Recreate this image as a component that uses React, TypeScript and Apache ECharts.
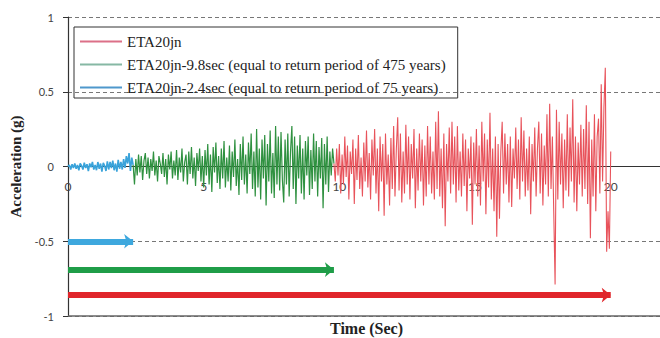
import React, { useEffect, useRef } from "react";
import * as echarts from "echarts";

const seriesNames = [
  "ETA20jn",
  "ETA20jn-9.8sec (equal to return period of 475 years)",
  "ETA20jn-2.4sec (equal to return period of 75 years)",
];

const sampleStep = 0.05;
const blueStart = 0;
const greenStart = 2.4;
const redStart = 9.8;

const blueValues = [
  0, 0.01, -0.02, 0.015, -0.01, 0.02, -0.015, 0.01, -0.025, 0.02, 0.005, -0.02, 0.025, -0.01, 0.015, -0.03, 0.02, -0.005, 0.03, -0.02,
  0.01, -0.025, 0.03, -0.015, 0.02, -0.035, 0.025, 0.005, -0.03, 0.035, -0.02, 0.03, -0.01, 0.04, -0.025, 0.02, -0.035, 0.045, -0.015, 0.03,
  -0.02, 0.05, -0.01, 0.07, 0.02, 0.09, -0.03, 0.06, 0.01,
];

const greenValues = [
  0.01, -0.12, 0.05, -0.06, 0.08, -0.04, 0.07, -0.09, 0.04, 0.09, -0.05, 0.06,
  -0.08, 0.05, -0.03, 0.1, -0.06, 0.04, -0.1, 0.07, 0.02, -0.05, 0.09, -0.07, 0.05, -0.12, 0.08, -0.02, 0.1, -0.08, 0.04, -0.06,
  0.11, -0.09, 0.06, -0.04, 0.12, -0.1, 0.03, 0.08, -0.12, 0.1, -0.05, 0.13, -0.08, 0.06, -0.13, 0.09, -0.03, 0.12, -0.1, 0.07,
  -0.14, 0.11, -0.06, 0.15, -0.12, 0.08, -0.17, 0.13, -0.04, 0.16, -0.11, 0.07, -0.15, 0.12, -0.08, 0.17, -0.14, 0.06, -0.1, 0.14,
  -0.16, 0.1, -0.07, 0.18, -0.13, 0.05, -0.19, 0.15, -0.09, 0.2, -0.12, 0.08, -0.18, 0.16, -0.05, 0.22, -0.15, 0.1, -0.2, 0.25,
  -0.14, 0.12, -0.22, 0.18, -0.08, 0.21, -0.26, 0.15, -0.1, 0.24, -0.18, 0.09, -0.21, 0.27, -0.12, 0.2, -0.16, 0.23, -0.09, -0.24,
  0.18, -0.12, 0.22, -0.2, 0.1, 0.27, -0.15, 0.2, -0.25, 0.14, -0.08, 0.21, -0.18, 0.12, -0.22, 0.17, -0.06, 0.2, -0.19, 0.11,
  -0.15, 0.22, -0.1, 0.17, -0.2, 0.13, -0.08, 0.19, -0.28, 0.15, -0.12, 0.2, -0.17, 0.1, -0.06, 0.12, 0.02,
];

const redValues = [
  0.02, -0.1, 0.12, -0.06,
  0.15, -0.18, 0.08, -0.12, 0.2, -0.07, 0.14, -0.22, 0.1, -0.05, 0.18, -0.25, 0.12, -0.09, 0.21, -0.15, 0.06, -0.2, 0.16, -0.1,
  0.24, -0.14, 0.09, -0.22, 0.18, -0.06, 0.25, -0.18, 0.12, -0.3, 0.2, -0.1, 0.15, -0.33, 0.22, -0.12, 0.08, -0.26, 0.19, -0.15,
  0.27, -0.2, 0.12, 0.33, -0.16, 0.22, -0.24, 0.1, -0.18, 0.28, -0.12, 0.2, -0.22, 0.15, -0.08, 0.25, -0.28, 0.12, -0.16, 0.22,
  -0.1, 0.18, -0.26, 0.14, -0.2, 0.27, -0.12, 0.2, -0.18, 0.1, -0.22, 0.3, -0.15, 0.37, -0.2, 0.12, -0.28, 0.22, -0.4, 0.15,
  -0.1, 0.26, -0.18, 0.3, -0.12, 0.2, -0.24, 0.27, -0.16, 0.1, -0.2, 0.22, -0.13, 0.18, -0.3, 0.12, -0.08, 0.2, -0.39, 0.16,
  -0.12, 0.25, -0.2, 0.14, -0.26, 0.3, -0.1, 0.22, -0.32, 0.18, -0.14, 0.36, -0.22, 0.12, -0.3, 0.2, -0.47, 0.15, -0.35, 0.1,
  0.3, -0.18, 0.22, -0.12, 0.15, -0.24, 0.2, -0.27, 0.12, -0.08, 0.26, -0.15, 0.18, -0.22, 0.33, -0.1, 0.24, -0.2, 0.12, -0.16,
  0.2, -0.32, 0.15, -0.1, 0.26, -0.2, 0.12, 0.3, -0.18, 0.22, -0.26, 0.14, -0.12, 0.35, -0.2, 0.42, -0.15, 0.2, -0.3, -0.79,
  0.38, -0.22, 0.3, -0.12, 0.22, -0.28, 0.18, -0.16, 0.35, -0.2, 0.26, -0.1, 0.45, -0.24, 0.2, -0.3, 0.16, -0.12, 0.28, -0.2,
  0.25, -0.15, 0.41, -0.25, 0.3, -0.48, 0.18, -0.2, 0.35, -0.3, 0.2, 0.32, -0.18, 0.55, -0.1, 0.4, 0.66, -0.57, -0.3, -0.55, 0.1,
];

// duration arrows: end time and level
const arrowEnds = [20, 9.8, 2.4];
const arrowLevels = [-0.86, -0.69, -0.5];

const lineColors = ["#e8535b", "#2f9140", "#3aa3da"];
const lineWidths = [1.1, 1.2, 1.6];
const legendColors = ["#dc7088", "#86b8a4", "#4f98cc"];
const arrowColors = ["#e0262b", "#1f9d48", "#3ea8de"];

const yTicks = [-1, -0.5, 0, 0.5, 1];

function toPoints(start: number, values: number[]) {
  return values.map((v, i) => [Math.round((start + i * sampleStep) * 1000) / 1000, v]);
}

export default function App() {
  const ref = useRef<HTMLDivElement>(null);
  useEffect(() => {
    if (!ref.current) return;
    const chart = echarts.init(ref.current, undefined, { renderer: "svg" });
    const starts = [redStart, greenStart, blueStart];
    const vals = [redValues, greenValues, blueValues];
    const series: any[] = seriesNames.map((name, k) => ({
      name,
      type: "line",
      data: toPoints(starts[k], vals[k]),
      symbol: "none",
      z: 3 + k,
      lineStyle: { color: lineColors[k], width: lineWidths[k] },
      itemStyle: { color: lineColors[k] },
      markLine: {
        silent: true,
        symbol: ["none", "arrow"],
        symbolSize: [11, 9],
        label: { show: false },
        emphasis: { disabled: true },
        lineStyle: { color: arrowColors[k], width: 6, type: "solid" },
        data: [[{ coord: [0, arrowLevels[k]] }, { coord: [arrowEnds[k], arrowLevels[k]] }]],
      },
    }));
    series.push({
      name: "bottom",
      type: "line",
      data: [],
      markLine: {
        silent: true,
        symbol: ["none", "none"],
        label: { show: false },
        emphasis: { disabled: true },
        lineStyle: { color: "#666", width: 1.5, type: "solid" },
        data: [{ yAxis: yTicks[0] }],
      },
    });
    chart.setOption({
      animation: false,
      backgroundColor: "#ffffff",
      grid: { left: 68, top: 17, width: 597, height: 299, containLabel: false, outerBoundsMode: "none" },
      legend: {
        data: seriesNames.map((name, k) => ({ name, itemStyle: { color: legendColors[k] } })),
        orient: "vertical",
        left: 74,
        top: 27,
        icon: "rect",
        borderColor: "#333",
        borderWidth: 1,
        padding: [7, 12, 3, 6],
        itemWidth: 42,
        itemHeight: 2,
        itemGap: 8,
        textStyle: { fontFamily: "Liberation Serif", fontSize: 15, color: "#222", lineHeight: 15 },
      },
      xAxis: {
        type: "value",
        position: "bottom",
        offset: -150,
        min: 0,
        max: 22,
        interval: 5,
        axisLine: { onZero: false, lineStyle: { color: "#333", width: 1.2 } },
        axisTick: { show: false },
        splitLine: { show: false },
        axisLabel: {
          margin: 14,
          fontFamily: "Lato",
          fontSize: 12,
          color: "#444",
          formatter: (v: number) => (v % 5 === 0 ? String(v) : ""),
        },
        name: "Time (Sec)",
        nameLocation: "middle",
        nameGap: 154,
        nameTextStyle: { fontFamily: "Liberation Serif", fontWeight: "bold", fontSize: 16, color: "#222" },
      },
      yAxis: {
        type: "value",
        min: -1,
        max: 1,
        interval: 0.5,
        axisLine: { show: true, onZero: false, lineStyle: { color: "#333", width: 1.2 } },
        axisTick: { show: true, length: 5, lineStyle: { color: "#333" } },
        splitLine: { show: true, lineStyle: { color: "#777", type: [4, 3], width: 1 } },
        axisLabel: { margin: 14, fontFamily: "Lato", fontSize: 11, color: "#444" },
        name: "Acceleration (g)",
        nameLocation: "middle",
        nameGap: 44,
        nameTextStyle: { fontFamily: "Liberation Serif", fontWeight: "bold", fontSize: 15, color: "#222" },
      },
      series,
    });
    return () => chart.dispose();
  }, []);
  return (
    <div
      ref={ref}
      style={{ position: "fixed", left: 0, top: 0, width: 660, height: 338, background: "#fff" }}
    />
  );
}
